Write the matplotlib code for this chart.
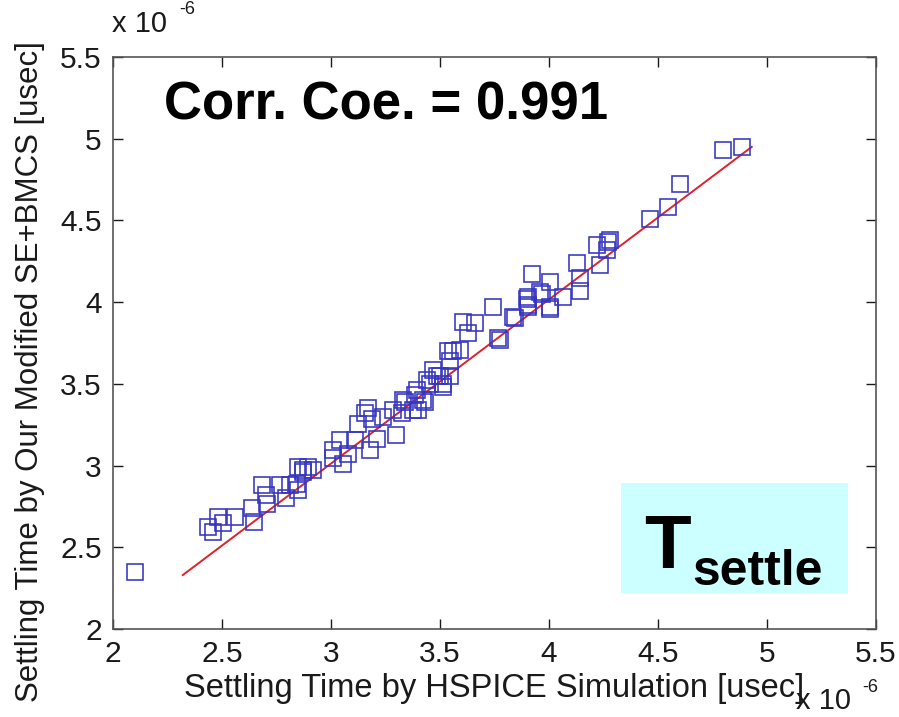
"""
Scatter of settling time: modified SE+BMCS estimate vs HSPICE simulation.
"""

import matplotlib
import matplotlib.pyplot as plt
import numpy as np

matplotlib.use("Agg")

# Settling time by HSPICE simulation [usec] (x) and by modified SE+BMCS [usec] (y)
hspice_us = [
    2.10, 2.437, 2.46, 2.483, 2.506, 2.56, 2.636, 2.647, 2.682, 2.702,
    2.708, 2.766, 2.794, 2.812, 2.85, 2.873, 2.917, 2.85, 2.873, 2.896,
    2.842, 3.01, 3.01, 3.041, 3.056, 3.079, 3.11, 3.125, 3.156, 3.171,
    3.187, 3.179, 3.21, 3.24, 3.30, 3.324, 3.34, 3.385, 3.40, 3.43,
    3.454, 3.485, 3.515, 3.546, 3.745, 3.607, 3.66, 3.63, 3.767, 3.775,
    3.844, 3.905, 3.905, 3.966, 4.005, 3.538, 3.56, 3.59, 3.546, 3.47,
    3.50, 3.44, 3.515, 3.393, 3.423, 3.332, 3.286, 3.378, 4.463, 4.272,
    4.219, 4.265, 4.234, 4.127, 4.142, 4.142, 3.92, 4.005, 3.959, 3.898,
    3.905, 4.005, 4.066, 3.836, 4.80, 4.884, 4.60, 4.547, 4.28,
]
bmcs_us = [
    2.35, 2.626, 2.595, 2.687, 2.647, 2.687, 2.739, 2.657, 2.881, 2.82,
    2.768, 2.881, 2.80, 2.881, 2.85, 2.963, 2.97, 2.99, 2.97, 2.99,
    2.89, 3.095, 3.045, 3.157, 3.01, 3.07, 3.157, 3.253, 3.32, 3.35,
    3.283, 3.095, 3.16, 3.30, 3.187, 3.324, 3.39, 3.432, 3.34, 3.39,
    3.50, 3.55, 3.50, 3.55, 3.97, 3.88, 3.87, 3.81, 3.78, 3.77,
    3.90, 4.03, 3.98, 4.05, 3.96, 3.70, 3.70, 3.71, 3.64, 3.585,
    3.55, 3.524, 3.48, 3.46, 3.40, 3.40, 3.34, 3.34, 4.51, 4.37,
    4.35, 4.32, 4.23, 4.24, 4.15, 4.07, 4.17, 4.125, 4.06, 4.02,
    3.97, 3.97, 4.03, 3.91, 4.93, 4.95, 4.72, 4.585, 4.38,
]

# Fitted line end points [usec]
fit_x = [2.32, 4.93]
fit_y = [2.33, 4.95]

ticks = [2, 2.5, 3, 3.5, 4, 4.5, 5, 5.5]
tick_labels = ["2", "2.5", "3", "3.5", "4", "4.5", "5", "5.5"]

plt.rcParams["font.family"] = ["Liberation Sans", "DejaVu Sans"]

W, H = 899, 717


def fx(px):
    return px / W


def fy(py):
    return 1 - py / H


fig = plt.figure(figsize=(W / 100, H / 100), dpi=100)
ax = fig.add_axes([0.1257, 0.1227, 0.8487, 0.7978])

ax.plot(fit_x, fit_y, color="#e0202a", linewidth=1.4, zorder=2)
ax.plot(
    hspice_us, bmcs_us, linestyle="none", marker="s", markersize=11,
    markerfacecolor="none", markeredgecolor="#3535c0", markeredgewidth=1.15, zorder=3,
)

ax.set_xlim(2, 5.5)
ax.set_ylim(2, 5.5)
ax.set_xticks(ticks)
ax.set_xticklabels(tick_labels)
ax.set_yticks(ticks)
ax.set_yticklabels(tick_labels)
ax.tick_params(direction="in", length=7, width=1, top=True, right=True,
               labelsize=21.5, pad=8, colors="#1a1a1a")
for sp in ax.spines.values():
    sp.set_color("#555555")
    sp.set_linewidth(1.2)

# Axis labels and exponent markers (MATLAB style)
fig.text(fx(494), fy(688), "Settling Time by HSPICE Simulation [usec]",
         ha="center", va="center", fontsize=23.5, color="#1a1a1a")
fig.text(fx(30), fy(372), "Settling Time by Our Modified SE+BMCS [usec]",
         ha="center", va="center", rotation=90, fontsize=22.5, color="#1a1a1a")
fig.text(fx(112), fy(24), "x 10", ha="left", va="center", fontsize=21, color="#1a1a1a")
fig.text(fx(179), fy(10), "-6", ha="left", va="center", fontsize=13, color="#1a1a1a")
fig.text(fx(796), fy(701), "x 10", ha="left", va="center", fontsize=21, color="#1a1a1a")
fig.text(fx(862), fy(687), "-6", ha="left", va="center", fontsize=13, color="#1a1a1a")

# Annotations
fig.text(fx(386), fy(105), "Corr. Coe. = 0.991", ha="center", va="center",
         fontsize=38, fontweight="bold", color="black")
box = plt.Rectangle((fx(621), fy(593)), 227 / W, 110 / H,
                    transform=fig.transFigure, facecolor="#ccffff", edgecolor="none")
fig.patches.append(box)
fig.text(fx(644), fy(568), "T", ha="left", va="baseline",
         fontsize=55, fontweight="bold", color="black")
fig.text(fx(692), fy(585), "settle", ha="left", va="baseline",
         fontsize=36, fontweight="bold", color="black")

fig.savefig("out.png", dpi=100)
